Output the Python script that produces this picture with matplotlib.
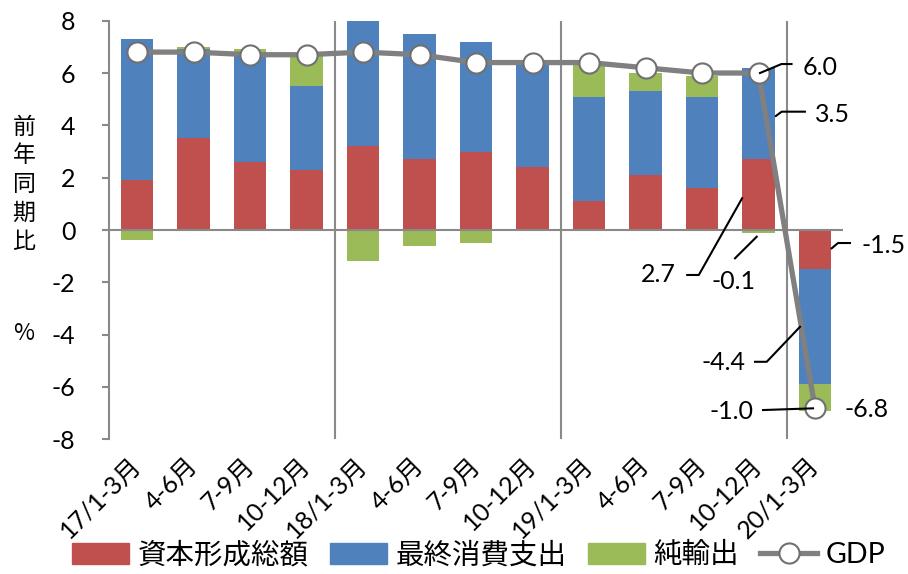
import matplotlib
matplotlib.use('Agg')
import matplotlib.pyplot as plt
from matplotlib.transforms import IdentityTransform
from matplotlib.lines import Line2D
from matplotlib.patches import Patch
import numpy as np

plt.rcParams['font.family'] = ['Lato', 'Noto Sans CJK JP']
plt.rcParams['axes.unicode_minus'] = False

# Quarterly contributions to China's real GDP growth (percentage points)
quarters = ['17/1-3月', '4-6月', '7-9月', '10-12月',
            '18/1-3月', '4-6月', '7-9月', '10-12月',
            '19/1-3月', '4-6月', '7-9月', '10-12月',
            '20/1-3月']
capital = [1.9, 3.5, 2.6, 2.3, 3.2, 2.7, 3.0, 2.4, 1.1, 2.1, 1.6, 2.7, -1.5]
consumption = [5.4, 3.4, 4.2, 3.2, 4.8, 4.8, 4.2, 3.9, 4.0, 3.2, 3.5, 3.5, -4.4]
net_exports = [-0.4, 0.1, 0.1, 1.2, -1.2, -0.6, -0.5, 0.1, 1.2, 0.7, 0.8, -0.1, -1.0]
gdp = [6.8, 6.8, 6.7, 6.7, 6.8, 6.7, 6.4, 6.4, 6.4, 6.2, 6.0, 6.0, -6.8]
series_names = ['資本形成総額', '最終消費支出', '純輸出', 'GDP']
y_ticks = [-8, -6, -4, -2, 0, 2, 4, 6, 8]

RED, BLUE, GREEN = '#C0504D', '#4F81BD', '#9BBB59'
AXIS_GREY = '#898989'
LINE_GREY = '#808080'
FS = 18

fig = plt.figure(figsize=(9.08, 5.74), dpi=100)
W, H = 908, 574
ax = fig.add_axes([108.75 / W, 1 - 439.3 / H, (843.25 - 108.75) / W, (439.3 - 20.7) / H])

x = np.arange(len(quarters))
bar_w = 0.58
pos_base = np.zeros(len(x))
neg_base = np.zeros(len(x))
for vals, col in zip([capital, consumption, net_exports], [RED, BLUE, GREEN]):
    v = np.array(vals, dtype=float)
    bottom = np.where(v >= 0, pos_base, neg_base)
    ax.bar(x, v, bottom=bottom, width=bar_w, color=col, zorder=2)
    pos_base = pos_base + np.where(v >= 0, v, 0)
    neg_base = neg_base + np.where(v < 0, v, 0)

ax.set_xlim(-0.5, len(x) - 0.5)
ax.set_ylim(-8, 8)

# zero line and year separators
ax.axhline(0, color=AXIS_GREY, lw=1.5, zorder=3)
for sep in [3.5, 7.5, 11.5]:
    ax.axvline(sep, color=AXIS_GREY, lw=1.5, zorder=3)

ax.plot(x, gdp, color=LINE_GREY, lw=3.8, marker='o', markersize=14.5,
        markerfacecolor='white', markeredgecolor='#707070', markeredgewidth=1.5,
        zorder=5, solid_capstyle='round')

for s in ['top', 'right', 'bottom']:
    ax.spines[s].set_visible(False)
ax.spines['left'].set_color(AXIS_GREY)
ax.spines['left'].set_linewidth(1.5)
ax.set_yticks(y_ticks)
ax.tick_params(axis='y', direction='out', length=5, width=1.5, color=AXIS_GREY,
               labelsize=FS, pad=19)
ax.set_xticks(x)
ax.set_xticklabels(quarters, rotation=45, ha='right', va='center',
                   rotation_mode='anchor', fontsize=FS)
ax.tick_params(axis='x', length=0, pad=16)

# data labels with leader lines (offsets in pixels, y pointing up)
fig.canvas.draw()


def label(xd, yd, text, text_off, ha, leader=None):
    ax_disp = ax.transData.transform((xd, yd))
    if leader:
        pts = np.array([[ax_disp[0] + dx, ax_disp[1] + dy] for dx, dy in leader])
        fig.add_artist(Line2D(pts[:, 0], pts[:, 1], transform=IdentityTransform(),
                              color='black', lw=1.5, zorder=6))
    fig.text(ax_disp[0] + text_off[0], ax_disp[1] + text_off[1], text,
             transform=IdentityTransform(), ha=ha, va='center', fontsize=FS, zorder=7)


half = bar_w / 2
i4, i5 = 11, 12
label(i4, gdp[i4], f'{gdp[i4]:.1f}', (44, 6), 'left',
      [(1.5, 0), (23, 9), (33, 9)])
label(i4 + half, capital[i4] + consumption[i4] / 2, f'{consumption[i4]:.1f}', (40, -0.5), 'left',
      [(1, -2.4), (6.8, 1.9), (30, 1.9)])
label(i4 - half, capital[i4] / 2, f'{capital[i4]:.1f}', (-66, -80.3), 'right',
      [(0, -3.6), (-43.3, -80.3), (-54.9, -80.3)])
label(i4, net_exports[i4] / 2, f'{net_exports[i4]:.1f}', (-25, -50.5), 'center',
      [(-1.8, -5.4), (-23.5, -27)])
label(i5 + half, capital[i5] / 2, f'{capital[i5]:.1f}', (30, 4.6), 'left',
      [(0.3, 1.3), (6.6, 6.6), (18.6, 6.6)])
label(i5 - half, capital[i5] + consumption[i5] / 2, f'{consumption[i5]:.1f}', (-53.6, -36), 'right',
      [(1.4, 0), (-31.9, -35), (-43.6, -35)])
label(i5, capital[i5] + consumption[i5] + net_exports[i5] / 2, f'{net_exports[i5]:.1f}', (-61.7, -14.3), 'right',
      [(-52, -12.6), (-2, -10.9)])
label(i5, gdp[i5], f'{gdp[i5]:.1f}', (30, -2), 'left')

# vertical axis title
for k, ch in enumerate('前年同期比'):
    fig.text(24 / W, 1 - (127 + 28.7 * k) / H, ch, ha='center', va='center',
             fontsize=16.5, family='Noto Sans CJK JP')
fig.text(24 / W, 1 - 333 / H, '%', ha='center', va='center', fontsize=16.5,
         family='Noto Sans CJK JP')

handles = [Patch(color=RED), Patch(color=BLUE), Patch(color=GREEN),
           Line2D([], [], color=LINE_GREY, lw=3.8, marker='o', markersize=14.5,
                  markerfacecolor='white', markeredgecolor='#707070', markeredgewidth=1.5)]
fig.legend(handles, series_names, loc='center', bbox_to_anchor=(479 / W, 1 - 555 / H),
           ncol=4, frameon=False, fontsize=20.5, handlelength=2.0, handleheight=0.75,
           handletextpad=0.3, columnspacing=0.75, borderaxespad=0, borderpad=0)

fig.savefig('out.png', dpi=100)
